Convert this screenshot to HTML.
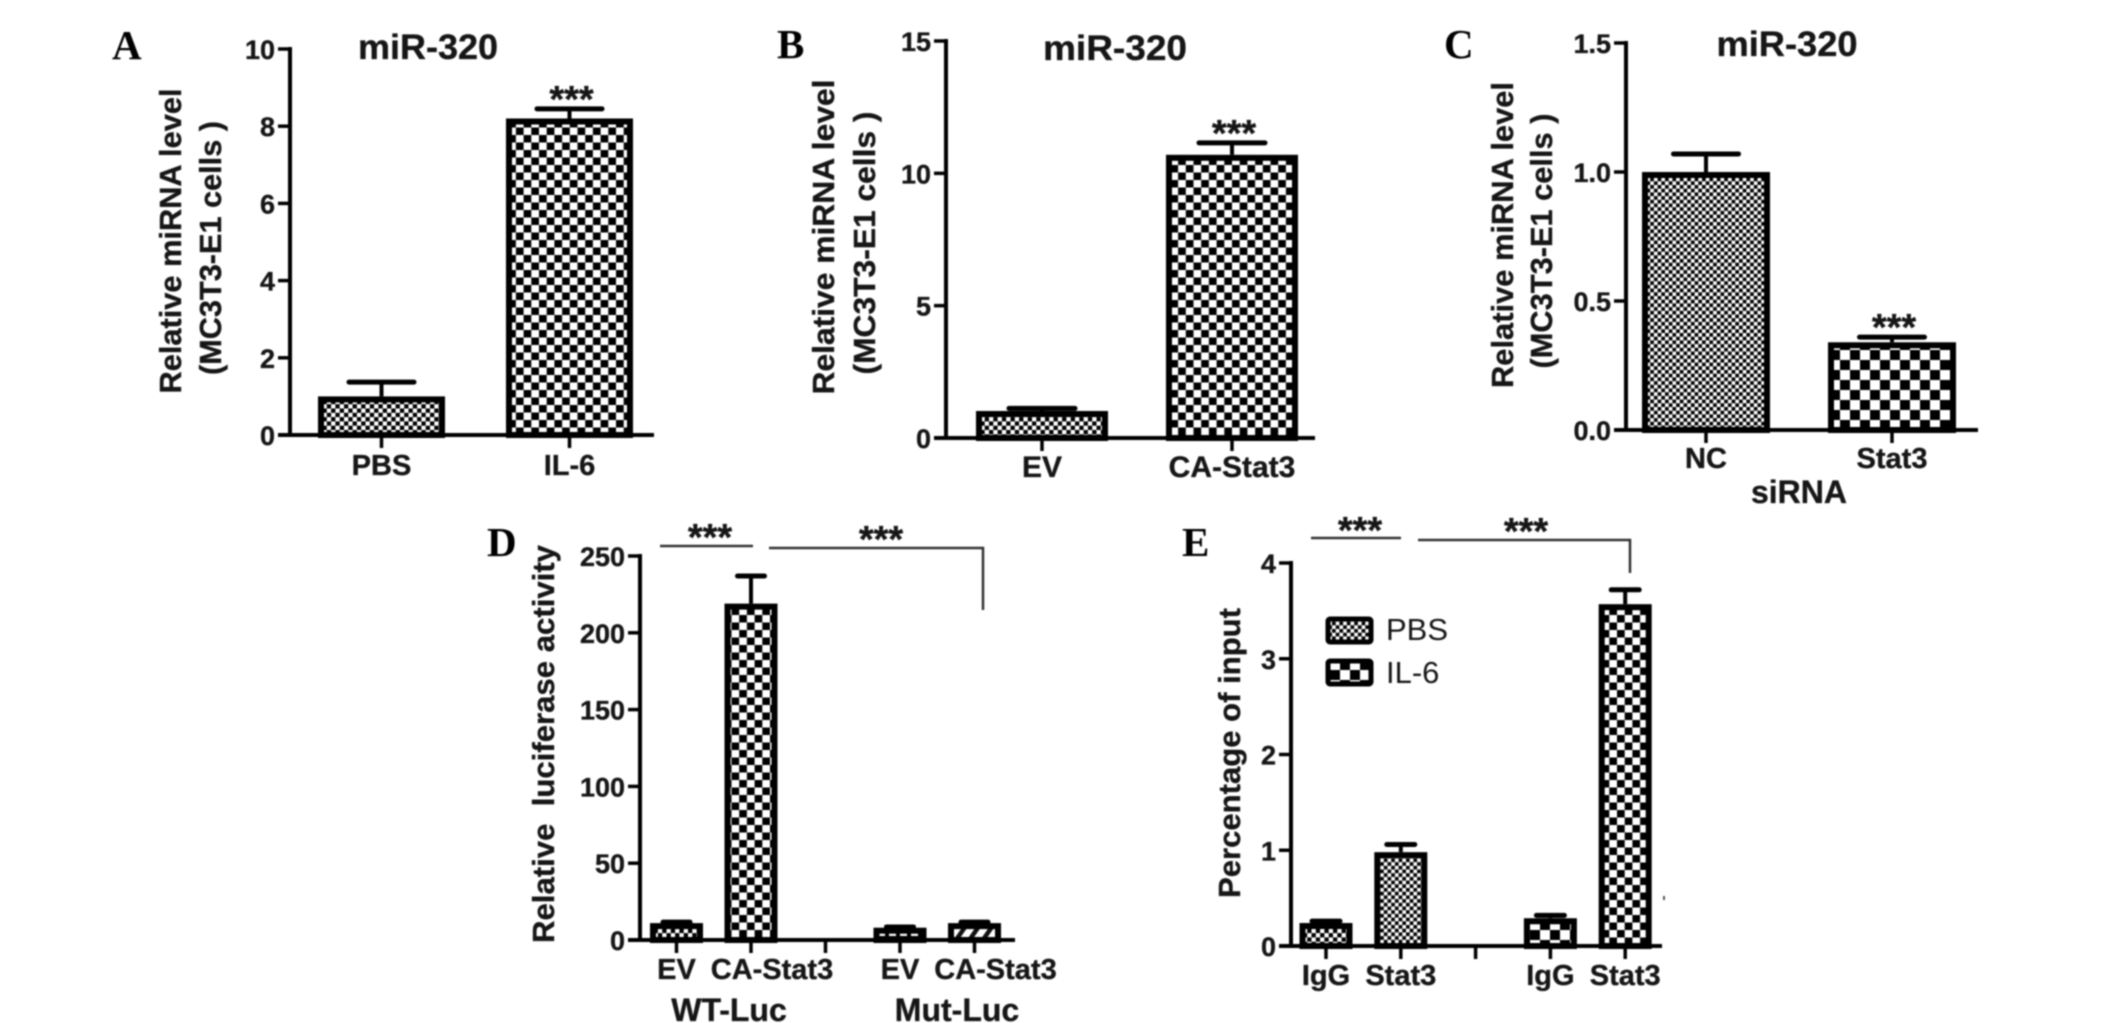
<!DOCTYPE html>
<html lang="en">
<head>
<meta charset="utf-8">
<title>miR-320 figure panels A-E</title>
<style>
html,body{margin:0;padding:0;background:#fff;width:2126px;height:1023px;overflow:hidden}
svg{display:block;filter:blur(0.7px)}
text{font-family:"Liberation Sans",sans-serif;fill:#161616}
.b,text[font-weight="bold"]{font-weight:bold;stroke:#161616;stroke-width:0.35px}
.letter{font-family:"Liberation Serif",serif;font-weight:bold;font-size:41px;fill:#000}
</style>
</head>
<body>
<svg id="figure" xmlns="http://www.w3.org/2000/svg" width="2126" height="1023" viewBox="0 0 2126 1023">
<defs>
<pattern id="chk33" patternUnits="userSpaceOnUse" width="7.4" height="7.4"><rect width="7.4" height="7.4" fill="#fff"/><rect width="3.7" height="3.7" fill="#000"/><rect x="3.7" y="3.7" width="3.7" height="3.7" fill="#000"/></pattern>
<pattern id="chk42" patternUnits="userSpaceOnUse" width="8.6" height="8.6"><rect width="8.6" height="8.6" fill="#fff"/><rect width="4.3" height="4.3" fill="#000"/><rect x="4.3" y="4.3" width="4.3" height="4.3" fill="#000"/></pattern>
<pattern id="chk77" patternUnits="userSpaceOnUse" width="15.4" height="15"><rect width="15.4" height="15" fill="#fff"/><rect width="7.7" height="7.5" fill="#000"/><rect x="7.7" y="7.5" width="7.7" height="7.5" fill="#000"/></pattern>
<pattern id="chk100" patternUnits="userSpaceOnUse" width="20" height="20"><rect width="20" height="20" fill="#fff"/><rect width="10" height="10" fill="#000"/><rect x="10" y="10" width="10" height="10" fill="#000"/></pattern>
<pattern id="squares" patternUnits="userSpaceOnUse" width="11" height="14" x="876"><rect width="11" height="14" fill="#000"/><rect x="2" y="2" width="7" height="10" fill="#fff"/></pattern>
<pattern id="hatch" patternUnits="userSpaceOnUse" width="11" height="11" patternTransform="rotate(-55)"><rect width="11" height="11" fill="#fff"/><rect width="11" height="4.5" fill="#111"/></pattern>
</defs>
<rect width="2126" height="1023" fill="#fff"/>

<text class="letter" x="112" y="59">A</text>
<text class="letter" x="777" y="58">B</text>
<text class="letter" x="1444" y="58">C</text>
<text class="letter" x="487" y="556">D</text>
<text class="letter" x="1182" y="556">E</text>

<text class="b" x="428" y="59" font-size="35" text-anchor="middle" textLength="140" lengthAdjust="spacingAndGlyphs">miR-320</text>
<text class="b" x="1115" y="60" font-size="35" text-anchor="middle" textLength="144" lengthAdjust="spacingAndGlyphs">miR-320</text>
<text class="b" x="1787" y="56" font-size="35" text-anchor="middle" textLength="141" lengthAdjust="spacingAndGlyphs">miR-320</text>

<text class="b" transform="translate(181,241) rotate(-90)" font-size="31" text-anchor="middle" textLength="305" lengthAdjust="spacingAndGlyphs">Relative miRNA level</text>
<text class="b" transform="translate(221,248) rotate(-90)" font-size="31" text-anchor="middle" textLength="254" lengthAdjust="spacingAndGlyphs">(MC3T3-E1 cells )</text>
<text class="b" transform="translate(834,237) rotate(-90)" font-size="31" text-anchor="middle" textLength="315" lengthAdjust="spacingAndGlyphs">Relative miRNA level</text>
<text class="b" transform="translate(875,243) rotate(-90)" font-size="31" text-anchor="middle" textLength="263" lengthAdjust="spacingAndGlyphs">(MC3T3-E1 cells )</text>
<text class="b" transform="translate(1513,235) rotate(-90)" font-size="31" text-anchor="middle" textLength="306" lengthAdjust="spacingAndGlyphs">Relative miRNA level</text>
<text class="b" transform="translate(1552,241) rotate(-90)" font-size="31" text-anchor="middle" textLength="255" lengthAdjust="spacingAndGlyphs">(MC3T3-E1 cells )</text>
<text class="b" transform="translate(554,744) rotate(-90)" font-size="31" text-anchor="middle" textLength="398" lengthAdjust="spacingAndGlyphs" xml:space="preserve" style="white-space:pre">Relative  luciferase activity</text>
<text class="b" transform="translate(1240,753) rotate(-90)" font-size="31" text-anchor="middle" textLength="290" lengthAdjust="spacingAndGlyphs">Percentage of input</text>

<text class="b" x="1799" y="503" font-size="32" text-anchor="middle">siRNA</text>
<text class="b" x="729" y="1021" font-size="32" text-anchor="middle">WT-Luc</text>
<text class="b" x="957" y="1021" font-size="32" text-anchor="middle">Mut-Luc</text>

<g fill="none" stroke="#333" stroke-width="2.5">
  <path d="M660 546H753"/>
  <path d="M769 548H983V610"/>
</g>
<g fill="none" stroke="#333" stroke-width="2.5">
  <path d="M1311 538H1401"/>
  <path d="M1418 540H1630V573"/>
</g>
<text class="b" x="710" y="550" font-size="38" text-anchor="middle">***</text>
<text class="b" x="881" y="552" font-size="38" text-anchor="middle">***</text>
<text class="b" x="1360" y="543" font-size="38" text-anchor="middle">***</text>
<text class="b" x="1526" y="544" font-size="38" text-anchor="middle">***</text>

<g>
  <rect x="1328" y="619" width="43" height="23" rx="2" fill="url(#chk33)" stroke="#000" stroke-width="5"/>
  <text x="1386" y="640" font-size="31">PBS</text>
  <rect x="1328" y="661" width="43" height="23" rx="2" fill="url(#chk100)" stroke="#000" stroke-width="5"/>
  <text x="1386" y="683" font-size="31">IL-6</text>
</g>
<rect x="1663" y="896" width="2" height="4" fill="#555"/>
<g id="plots"></g>
</svg>

<script>
// Panel A
const panelACategories = ['PBS', 'IL-6'];
const panelAValues = [1.0, 8.2];
const panelAErrors = [0.37, 0.25];
const panelASignificant = [false, true];
const panelATicks = [0, 2, 4, 6, 8, 10];
const panelATickLabels = ['0', '2', '4', '6', '8', '10'];
// Panel B
const panelBCategories = ['EV', 'CA-Stat3'];
const panelBValues = [1.02, 10.7];
const panelBErrors = [0.1, 0.45];
const panelBSignificant = [false, true];
const panelBTicks = [0, 5, 10, 15];
const panelBTickLabels = ['0', '5', '10', '15'];
// Panel C
const panelCCategories = ['NC', 'Stat3'];
const panelCValues = [1.0, 0.34];
const panelCErrors = [0.07, 0.02];
const panelCSignificant = [false, true];
const panelCTicks = [0, 0.5, 1, 1.5];
const panelCTickLabels = ['0.0', '0.5', '1.0', '1.5'];
// Panel D
const panelDCategories = ['EV', 'CA-Stat3', '', 'EV', 'CA-Stat3'];
const panelDValues = [11, 219, null, 8, 11];
const panelDErrors = [0.6, 18, null, 0.5, 0.6];
const panelDSignificant = [false, false, false, false, false];
const panelDTicks = [0, 50, 100, 150, 200, 250];
const panelDTickLabels = ['0', '50', '100', '150', '200', '250'];
// Panel E
const panelECategories = ['IgG', 'Stat3', '', 'IgG', 'Stat3'];
const panelEValues = [0.24, 0.98, null, 0.29, 3.57];
const panelEErrors = [0.02, 0.08, null, 0.03, 0.15];
const panelESignificant = [false, false, false, false, false];
const panelETicks = [0, 1, 2, 3, 4];
const panelETickLabels = ['0', '1', '2', '3', '4'];

const layouts = [
  {key: 'a', categories: panelACategories, values: panelAValues, errors: panelAErrors, significant: panelASignificant, ticks: panelATicks, tickLabels: panelATickLabels,
   axisX: 290, axisEnd: 654, yTop: 49, yBottom: 435, yMax: 10, first: 381.5, step: 188, barW: 127, capW: 65, border: 6, labelY: 465, labelSize: 29, fills: ['chk42', 'chk77'], labelShift: [0, 0]},
  {key: 'b', categories: panelBCategories, values: panelBValues, errors: panelBErrors, significant: panelBSignificant, ticks: panelBTicks, tickLabels: panelBTickLabels,
   axisX: 946, axisEnd: 1315, yTop: 41, yBottom: 438, yMax: 15, first: 1042, step: 190, barW: 132, capW: 66, border: 6, labelY: 467, labelSize: 30, fills: ['chk42', 'chk77'], labelShift: [0, 0]},
  {key: 'c', categories: panelCCategories, values: panelCValues, errors: panelCErrors, significant: panelCSignificant, ticks: panelCTicks, tickLabels: panelCTickLabels,
   axisX: 1626, axisEnd: 1978, yTop: 43, yBottom: 430, yMax: 1.5, first: 1706, step: 186, barW: 128, capW: 65, border: 6, labelY: 458, labelSize: 29, fills: ['chk33', 'chk100'], labelShift: [0, 0]},
  {key: 'd', categories: panelDCategories, values: panelDValues, errors: panelDErrors, significant: panelDSignificant, ticks: panelDTicks, tickLabels: panelDTickLabels,
   axisX: 640, axisEnd: 1015, yTop: 556, yBottom: 940, yMax: 250, first: 676.5, step: 74.5, barW: 53, capW: 27, border: 6, labelY: 969, labelSize: 29, fills: ['chk42', 'chk77', 'chk42', 'squares', 'hatch'], labelShift: [0, 21, 0, 0, 21]},
  {key: 'e', categories: panelECategories, values: panelEValues, errors: panelEErrors, significant: panelESignificant, ticks: panelETicks, tickLabels: panelETickLabels,
   axisX: 1291, axisEnd: 1662, yTop: 563, yBottom: 946, yMax: 4, first: 1326, step: 74.8, barW: 53, capW: 28, border: 6, labelY: 975, labelSize: 29, fills: ['chk42', 'chk33', 'chk42', 'chk100', 'chk77'], labelShift: [0, 0, 0, 0, 0]}
];

const SVG_NS = 'http://www.w3.org/2000/svg';
const root = document.getElementById('plots');

function make(parent, tag, attrs, content) {
  const node = document.createElementNS(SVG_NS, tag);
  for (const k in attrs) node.setAttribute(k, attrs[k]);
  if (content !== undefined) node.textContent = content;
  parent.appendChild(node);
  return node;
}

layouts.forEach(function (p) {
  const yScale = function (v) { return p.yBottom - (v / p.yMax) * (p.yBottom - p.yTop); };
  const xScale = function (i) { return p.first + i * p.step; };

  const panel = make(root, 'g', {});
  
  

  p.values.forEach(function (v, i) {
    if (v === null) return;
    const cx = xScale(i);
    const top = yScale(v);
    const inset = p.border / 2;

    const stem = make(panel, 'line', {x1: cx, x2: cx, y1: top, y2: yScale(v + p.errors[i]), stroke: '#000', 'stroke-width': 4});
    
    

    const cap = make(panel, 'line', {x1: cx - p.capW / 2, x2: cx + p.capW / 2, y1: yScale(v + p.errors[i]), y2: yScale(v + p.errors[i]), stroke: '#000', 'stroke-width': 5, 'stroke-linecap': 'round'});
    
    

    const bar = make(panel, 'rect', {x: cx - p.barW / 2 + inset, y: top + inset, width: p.barW - p.border, height: Math.max(0, p.yBottom - top - inset), fill: 'url(#' + p.fills[i] + ')', stroke: '#000', 'stroke-width': p.border});
    
    

    if (p.significant[i]) {
      const stars = make(panel, 'text', {x: cx + 2, y: yScale(v + p.errors[i]) + 3, 'font-size': 38, 'font-weight': 'bold', 'text-anchor': 'middle'}, '***');
      
      
    }
  });

  const yAxis = make(panel, 'line', {x1: p.axisX, x2: p.axisX, y1: p.yTop - 2, y2: p.yBottom + 2, stroke: '#000', 'stroke-width': 4});
  
  

  const xAxis = make(panel, 'line', {x1: p.axisX - 12, x2: p.axisEnd, y1: p.yBottom, y2: p.yBottom, stroke: '#000', 'stroke-width': 4});
  
  

  p.ticks.forEach(function (t, i) {
    const y = yScale(t);
    const tick = make(panel, 'line', {x1: p.axisX - 12, x2: p.axisX, y1: y, y2: y, stroke: '#000', 'stroke-width': 3.5});
    
    

    const label = make(panel, 'text', {x: p.axisX - 15, y: y + 10, 'font-size': 27, 'font-weight': 'bold', 'text-anchor': 'end'}, p.tickLabels[i]);
    
    
  });

  p.categories.forEach(function (c, i) {
    const cx = xScale(i);
    const tick = make(panel, 'line', {x1: cx, x2: cx, y1: p.yBottom, y2: p.yBottom + 13, stroke: '#000', 'stroke-width': 3.5});
    
    

    if (c) {
      const label = make(panel, 'text', {x: cx + p.labelShift[i], y: p.labelY + 10, 'font-size': p.labelSize, 'font-weight': 'bold', 'text-anchor': 'middle'}, c);
      
      
    }
  });
});
</script>
</body>
</html>
